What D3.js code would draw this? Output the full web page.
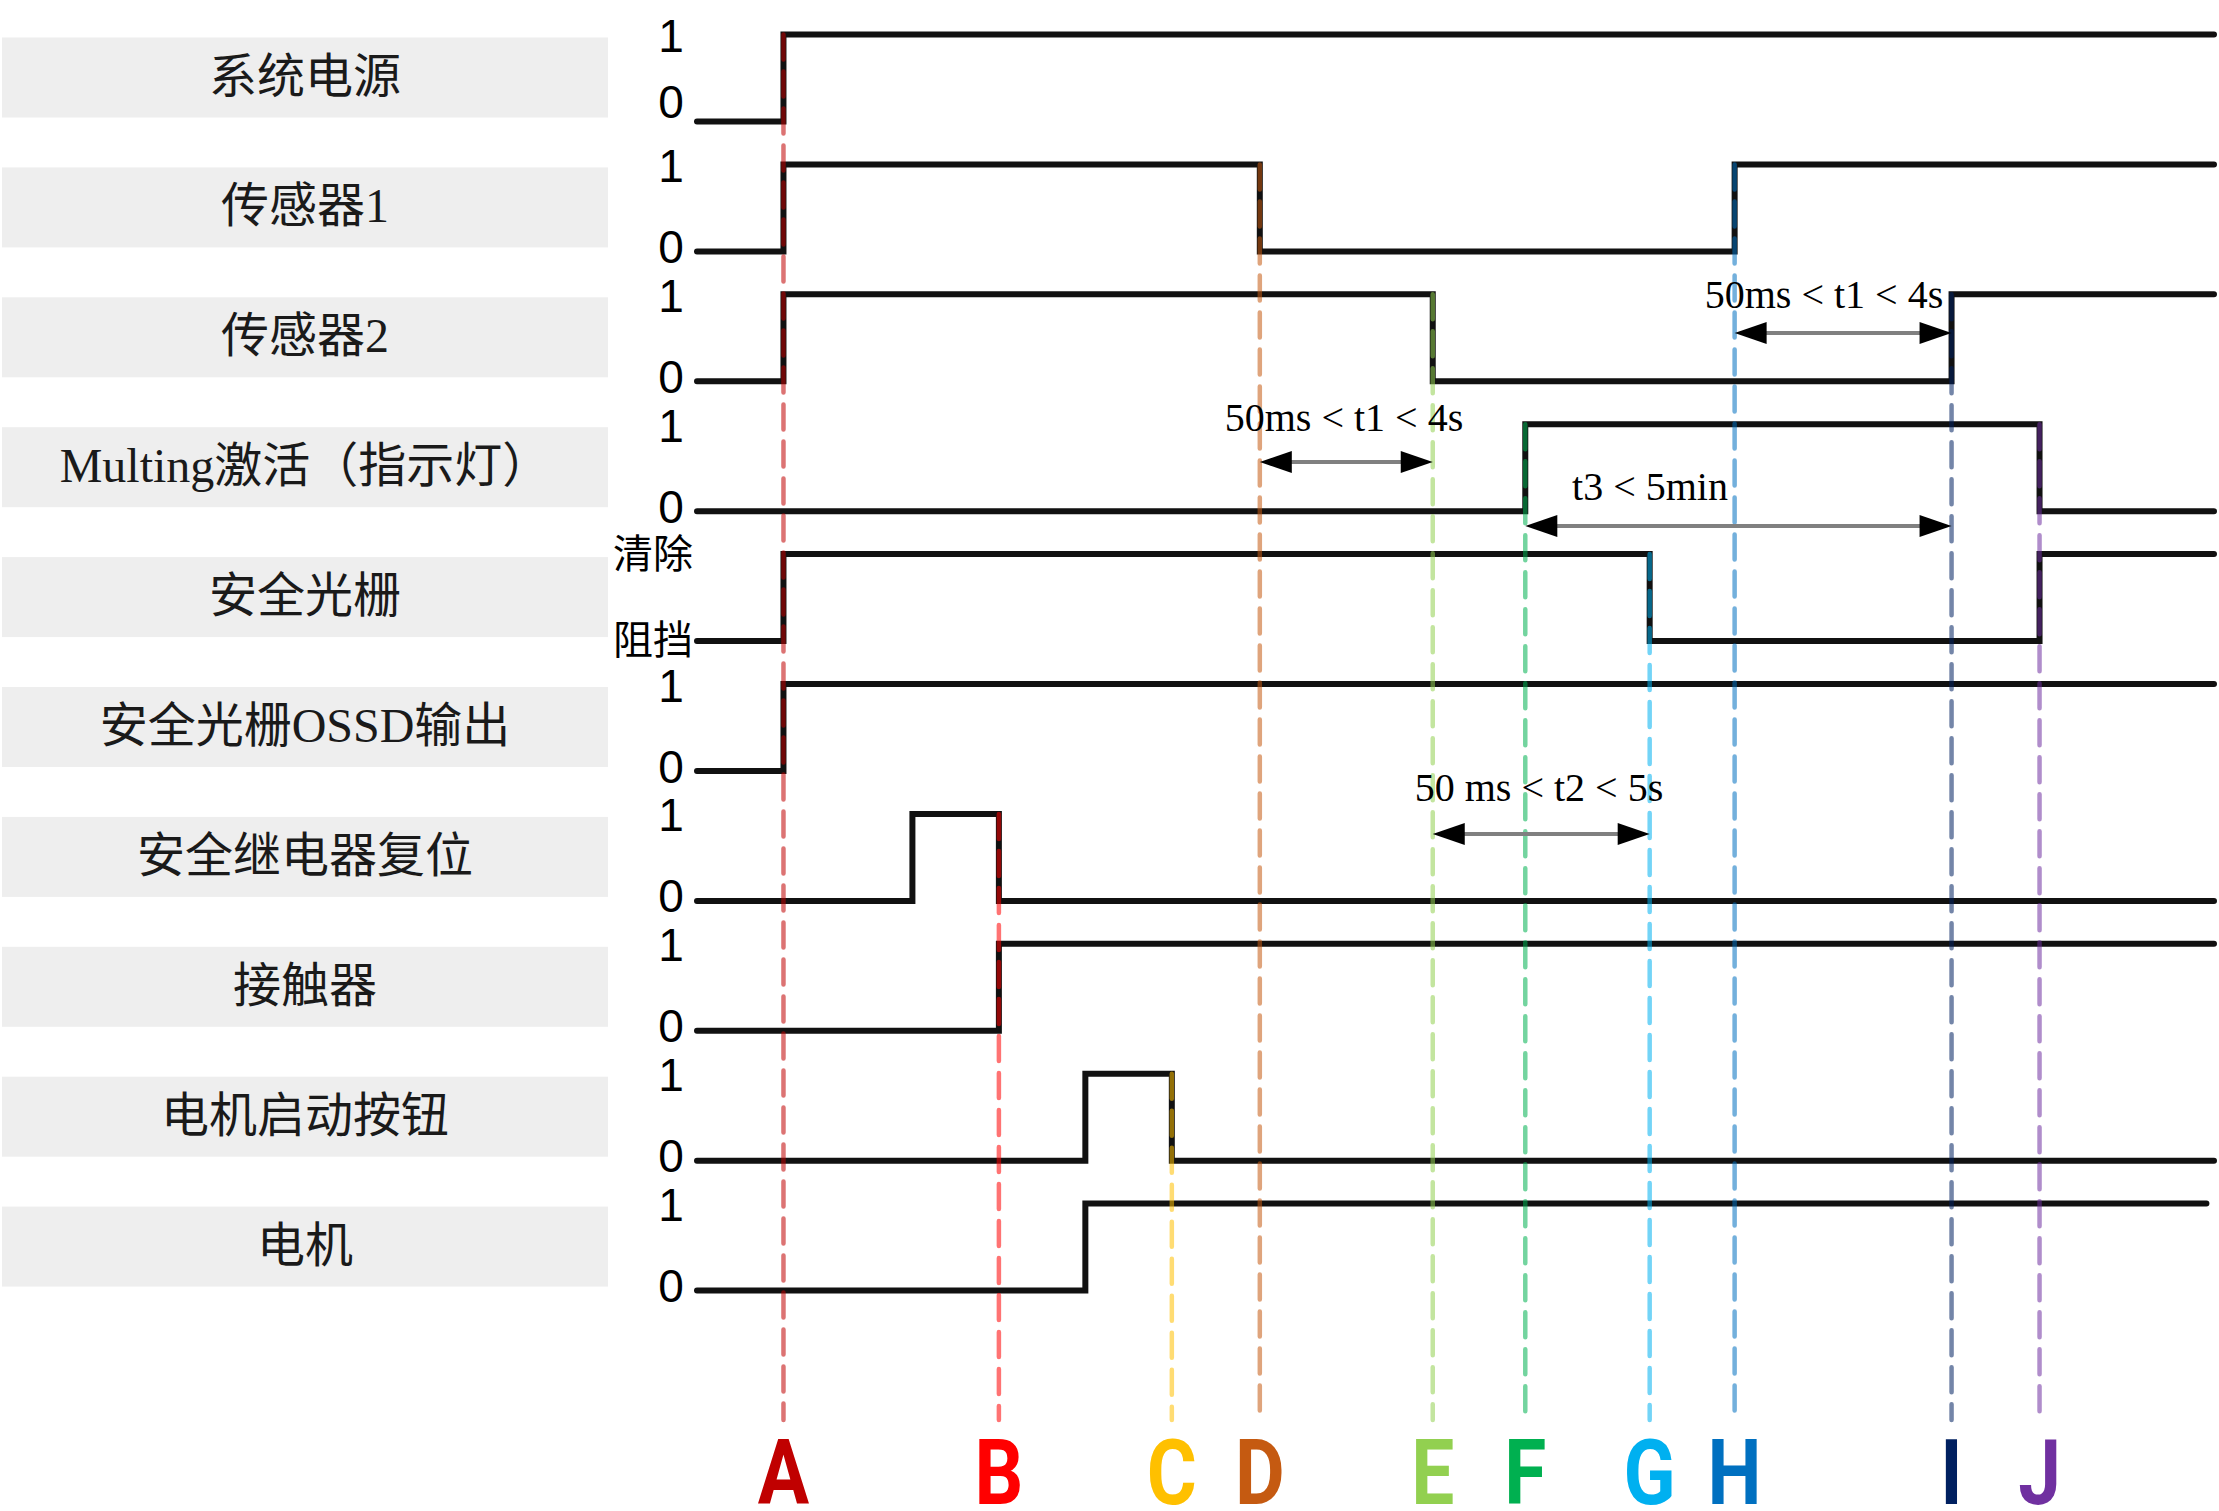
<!DOCTYPE html>
<html><head><meta charset="utf-8">
<script src="https://cdn.jsdelivr.net/npm/d3@7"></script>
<style>body{margin:0;background:#fff}</style>
</head><body>
<svg id="chart" width="2219" height="1511"></svg>
<script>
// ---------------- DATA ----------------
const signalNames = ["系统电源","传感器1","传感器2","Multing激活（指示灯）","安全光栅","安全光栅OSSD输出","安全继电器复位","接触器","电机启动按钮","电机"];
const markerNames  = ["A","B","C","D","E","F","G","H","I","J"];
const markerTimes  = [5.7, 19.9, 31.3, 37.1, 48.5, 54.6, 62.8, 68.4, 82.7, 88.5];
const markerColors = ["#c00000","#ff0000","#ffc000","#c55a11","#92d050","#00b050","#00b0f0","#0070c0","#002060","#7030a0"];
// waveforms: [time, level]
const wavePower      = [[0,0],[5.7,1],[100,1]];
const waveSensor1    = [[0,0],[5.7,1],[37.1,0],[68.4,1],[100,1]];
const waveSensor2    = [[0,0],[5.7,1],[48.5,0],[82.7,1],[100,1]];
const waveMuting     = [[0,0],[54.6,1],[88.5,0],[100,0]];
const waveCurtain    = [[0,0],[5.7,1],[62.8,0],[88.5,1],[100,1]];
const waveOssd       = [[0,0],[5.7,1],[100,1]];
const waveRelayReset = [[0,0],[14.2,1],[19.9,0],[100,0]];
const waveContactor  = [[0,0],[19.9,1],[100,1]];
const waveStartBtn   = [[0,0],[25.6,1],[31.3,0],[100,0]];
const waveMotor      = [[0,0],[25.6,1],[99.5,1]];
const waves = [wavePower,waveSensor1,waveSensor2,waveMuting,waveCurtain,waveOssd,waveRelayReset,waveContactor,waveStartBtn,waveMotor];
const levelLabels = [["0","1"],["0","1"],["0","1"],["0","1"],["阻挡","清除"],["0","1"],["0","1"],["0","1"],["0","1"],["0","1"]];
const annFrom   = ["D","H","F","E"];
const annTo     = ["E","I","I","G"];
const annLabels = ["50ms < t1 < 4s","50ms < t1 < 4s","t3 < 5min","50 ms < t2 < 5s"];

// ---------------- LAYOUT ----------------
const W = 2219, H = 1511;
const x = d3.scaleLinear().domain([0,100]).range([697,2214]);
const rowTop = d3.scaleLinear().domain([0,9]).range([34.5,1203.6]);
const amp = 87;
const annLayout = [
  {arrowY:462, textY:431, textX:1344},
  {arrowY:333, textY:308, textX:1824},
  {arrowY:526, textY:500, textX:1650},
  {arrowY:834, textY:801, textX:1539}
];

const svg = d3.select("#chart");
svg.append("rect").attr("width",W).attr("height",H).attr("fill","#fff");

// label boxes
const rows = svg.append("g").selectAll("g").data(signalNames).join("g");
rows.append("rect")
  .attr("x",2).attr("width",606)
  .attr("y",(d,i)=>rowTop(i)+3).attr("height",80)
  .attr("fill","#eeeeee");
rows.append("text")
  .attr("x",305).attr("y",(d,i)=>rowTop(i)+3+55)
  .attr("text-anchor","middle")
  .attr("font-family","'Liberation Serif','Noto Sans CJK SC',serif")
  .attr("font-size",48).attr("fill","#1a1a1a")
  .text(d=>d);

// level labels
const lvl = svg.append("g");
levelLabels.forEach((pair,i)=>{
  const hi = rowTop(i), lo = rowTop(i)+amp;
  const shift = i===0 ? -15 : 0;
  if (pair[0]==="0") {
    lvl.append("text").attr("x",671).attr("y",lo+11.5+shift).attr("text-anchor","middle")
      .attr("font-family","'Liberation Sans',Arial,sans-serif").attr("font-size",46).attr("fill","#000").text(pair[0]);
    lvl.append("text").attr("x",671).attr("y",Math.max(hi+17.5,35)).attr("text-anchor","middle")
      .attr("font-family","'Liberation Sans',Arial,sans-serif").attr("font-size",46).attr("fill","#000").text(pair[1]);
  } else {
    lvl.append("text").attr("x",693).attr("y",lo+13).attr("text-anchor","end")
      .attr("font-family","'Noto Sans CJK SC',sans-serif").attr("font-size",40).attr("fill","#000").text(pair[0]);
    lvl.append("text").attr("x",693).attr("y",hi+14).attr("text-anchor","end")
      .attr("font-family","'Noto Sans CJK SC',sans-serif").attr("font-size",40).attr("fill","#000").text(pair[1]);
  }
});

// signals
const sig = svg.append("g");
waves.forEach((w,i)=>{
  const y = d3.scaleLinear().domain([0,1]).range([rowTop(i)+amp, rowTop(i)]);
  const line = d3.line().x(d=>x(d[0])).y(d=>y(d[1])).curve(d3.curveStepAfter);
  sig.append("path").attr("d",line(w)).attr("fill","none")
    .attr("stroke","#111").attr("stroke-width",6)
    .attr("stroke-linejoin","miter").attr("stroke-linecap","round");
});

// marker dashed lines (start at first row that transitions at that time)
const mk = svg.append("g");
markerNames.forEach((m,k)=>{
  const t = markerTimes[k];
  let start = waves.findIndex(w=>w.slice(1,-1).some(p=>Math.abs(p[0]-t)<0.01));
  if (start<0) start = 0;
  mk.append("line")
    .attr("x1",x(t)).attr("x2",x(t))
    .attr("y1",rowTop(start)).attr("y2",1420)
    .attr("stroke",markerColors[k]).attr("stroke-opacity",0.55)
    .attr("stroke-width",4.5).attr("stroke-dasharray","25 12")
    .attr("stroke-linecap","round");
  mk.append("text")
    .attr("transform",`translate(${x(t)},1504) scale(0.85,1)`)
    .attr("text-anchor","middle")
    .attr("font-family","Roboto,'DejaVu Sans',sans-serif").attr("font-weight",700)
    .attr("font-size",90).attr("fill",markerColors[k]).text(m);
});

// annotations
const ann = svg.append("g");
annLabels.forEach((lab,k)=>{
  const L = annLayout[k];
  const x1 = x(markerTimes[markerNames.indexOf(annFrom[k])]);
  const x2 = x(markerTimes[markerNames.indexOf(annTo[k])]);
  const y = L.arrowY, hl = 32, hw = 11;
  ann.append("line").attr("x1",x1+hl-4).attr("x2",x2-hl+4).attr("y1",y).attr("y2",y)
    .attr("stroke","#808080").attr("stroke-width",4);
  ann.append("path").attr("d",`M${x1},${y}L${x1+hl},${y-hw}L${x1+hl},${y+hw}Z`).attr("fill","#000");
  ann.append("path").attr("d",`M${x2},${y}L${x2-hl},${y-hw}L${x2-hl},${y+hw}Z`).attr("fill","#000");
  ann.append("text").attr("x",L.textX).attr("y",L.textY).attr("text-anchor","middle")
    .attr("font-family","'Liberation Serif','Times New Roman',serif").attr("font-size",40)
    .attr("fill","#000").text(lab);
});
</script>
</body></html>
